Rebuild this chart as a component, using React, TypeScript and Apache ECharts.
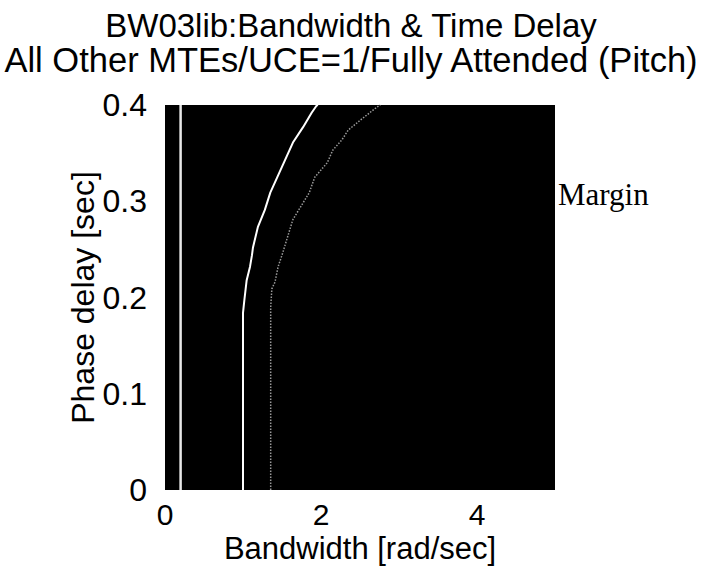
import React, { useEffect, useRef } from "react";
import * as echarts from "echarts";

const titleLine1 = "BW03lib:Bandwidth & Time Delay";
const titleLine2 = "All Other MTEs/UCE=1/Fully Attended (Pitch)";
const xAxisName = "Bandwidth [rad/sec]";
const yAxisName = "Phase delay [sec]";
const annotation = "Margin";

// vertical boundary line near zero bandwidth
const lineA: [number, number][] = [
  [0.2, 0],
  [0.2, 0.4],
];
// bright boundary curve
const lineB: [number, number][] = [
  [1.0, 0],
  [1.0, 0.184],
  [1.017, 0.197],
  [1.047, 0.218],
  [1.09, 0.232],
  [1.115, 0.244],
  [1.128, 0.252],
  [1.19, 0.273],
  [1.28, 0.291],
  [1.35, 0.309],
  [1.44, 0.325],
  [1.54, 0.343],
  [1.64, 0.361],
  [1.77, 0.377],
  [1.88, 0.392],
  [1.94, 0.399],
  [1.96, 0.4],
];
// dim dotted boundary curve
const lineC: [number, number][] = [
  [1.355, 0],
  [1.355, 0.19],
  [1.37, 0.209],
  [1.41, 0.216],
  [1.45, 0.232],
  [1.5, 0.244],
  [1.64, 0.281],
  [1.85, 0.309],
  [1.92, 0.325],
  [2.08, 0.34],
  [2.15, 0.353],
  [2.27, 0.364],
  [2.35, 0.374],
  [2.5, 0.384],
  [2.72, 0.398],
  [2.76, 0.4],
];

const FONT = "'Liberation Sans', Arial, Helvetica, sans-serif";

export default function App() {
  const ref = useRef<HTMLDivElement>(null);
  useEffect(() => {
    if (!ref.current) return;
    const chart = echarts.init(ref.current, undefined, { renderer: "svg" });
    chart.setOption({
      animation: false,
      backgroundColor: "#ffffff",
      title: {
        text: titleLine1,
        subtext: titleLine2,
        left: "center",
        top: 4,
        itemGap: 0,
        textStyle: { fontFamily: FONT, fontSize: 33, fontWeight: "normal", color: "#000" },
        subtextStyle: { fontFamily: FONT, fontSize: 34.5, color: "#000" },
      },
      grid: {
        left: 165,
        right: 147,
        top: 105,
        bottom: 77,
        show: true,
        backgroundColor: "#000000",
        borderWidth: 0,
        containLabel: false,
        outerBoundsMode: "none",
      },
      xAxis: {
        type: "value",
        min: 0,
        max: 5,
        interval: 2,
        name: xAxisName,
        nameLocation: "middle",
        nameGap: 45,
        nameMoveOverlap: false,
        nameTextStyle: { fontFamily: FONT, fontSize: 31, color: "#000", lineHeight: 26 },
        axisLine: { show: false },
        axisTick: { show: false },
        splitLine: { show: false },
        axisLabel: {
          fontFamily: FONT,
          fontSize: 30,
          lineHeight: 24,
          color: "#000",
          margin: 12,
          showMaxLabel: false,
        },
      },
      yAxis: {
        type: "value",
        min: 0,
        max: 0.4,
        interval: 0.1,
        name: yAxisName,
        nameLocation: "middle",
        nameGap: 66,
        nameMoveOverlap: false,
        nameTextStyle: { fontFamily: FONT, fontSize: 32, color: "#000" },
        axisLine: { show: false },
        axisTick: { show: false },
        splitLine: { show: false },
        axisLabel: { fontFamily: FONT, fontSize: 32, color: "#000", margin: 18 },
      },
      graphic: [
        {
          type: "text",
          left: 558,
          top: 179,
          style: {
            text: annotation,
            fontFamily: "'Liberation Serif', 'Times New Roman', serif",
            fontSize: 31,
            fill: "#000",
          },
        },
      ],
      series: [
        {
          type: "line",
          data: lineA,
          showSymbol: false,
          lineStyle: { color: "#e8e8e8", width: 2.5 },
        },
        {
          type: "line",
          data: lineB,
          showSymbol: false,
          lineStyle: { color: "#ffffff", width: 2 },
        },
        {
          type: "line",
          data: lineC,
          showSymbol: false,
          lineStyle: { color: "#9a9a9a", width: 1.5, type: "dotted" },
        },
      ],
    });
    return () => chart.dispose();
  }, []);
  return (
    <div
      ref={ref}
      style={{ position: "fixed", left: 0, top: 0, width: 702, height: 567 }}
    />
  );
}
